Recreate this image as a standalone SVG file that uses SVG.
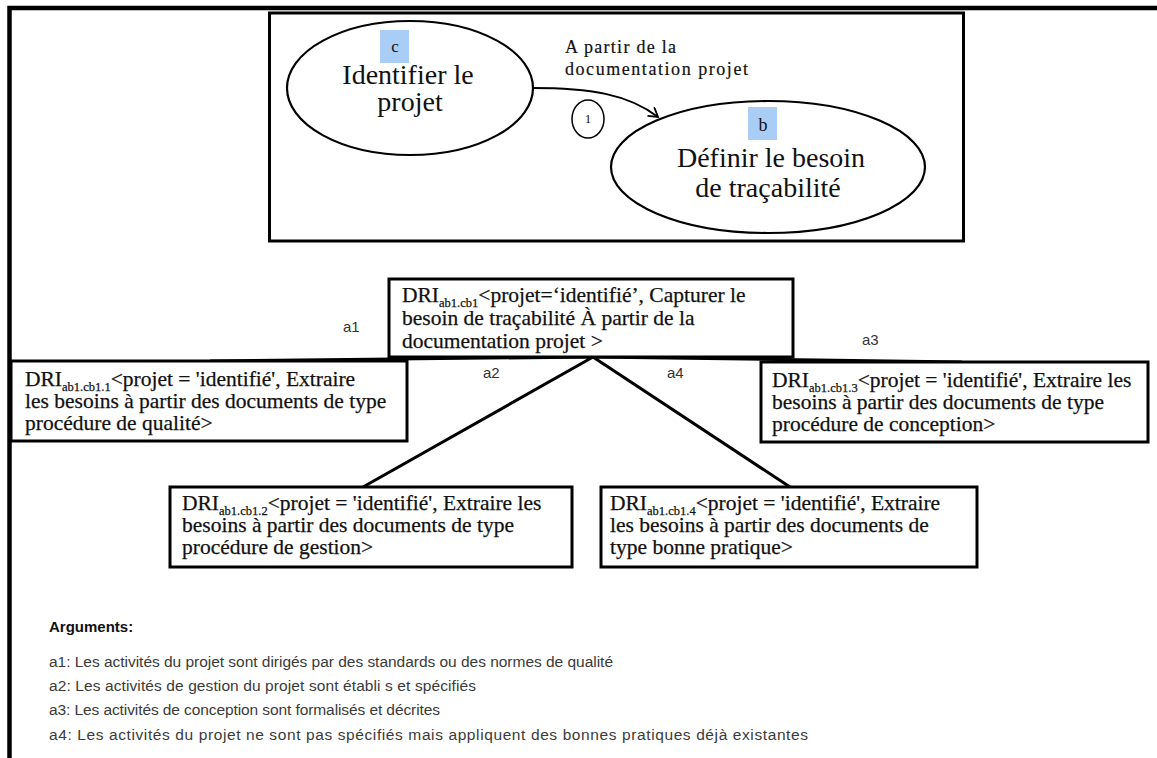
<svg xmlns="http://www.w3.org/2000/svg" width="1157" height="758" viewBox="0 0 1157 758">
  <defs>
    <marker id="open" markerUnits="userSpaceOnUse" markerWidth="14" markerHeight="14" refX="10" refY="6" orient="auto">
      <path d="M1,0.5 L10,6 L1,11.5" fill="none" stroke="#000" stroke-width="1.8"/>
    </marker>
  </defs>
  <style>
    .frame { stroke: #000; stroke-width: 4.5; fill: none; }
    .panel { fill: #fff; stroke: #000; stroke-width: 3; }
    .ell { fill: #fff; stroke: #000; stroke-width: 2.2; }
    .box { fill: #fff; stroke: #000; stroke-width: 3; }
    .hl { fill: #a9cdf5; }
    .big { font-family: "Liberation Serif", "Times New Roman", serif; font-size: 28px; fill: #111; text-anchor: middle; }
    .mid { font-family: "Liberation Serif", "Times New Roman", serif; font-size: 18px; fill: #111; stroke: #111; stroke-width: 0.2; }
    .dri { font-family: "Liberation Serif", "Times New Roman", serif; font-size: 21.5px; fill: #111; stroke: #111; stroke-width: 0.25; }
    .sub { font-size: 12.5px; }
    .lbl { font-family: "Liberation Sans", Arial, sans-serif; font-size: 15px; fill: #333; }
    .arg { font-family: "Liberation Sans", Arial, sans-serif; font-size: 15.5px; fill: #3a3a3a; }
    .argh { font-family: "Liberation Sans", Arial, sans-serif; font-size: 15px; font-weight: bold; fill: #111; }
    .conn { stroke: #000; stroke-width: 3; fill: none; }
  </style>
  <rect width="1157" height="758" fill="#fff"/>
  <g id="outer-frame">
    <path class="frame" d="M9.5,758 L9.5,8 L1157,8"/>
  </g>
  <g id="process-panel">
    <rect class="panel" x="269.5" y="13" width="694" height="228"/>
  </g>
  <g id="flow-connector">
    <path d="M532,88 C590,88 628,94 658,117" fill="none" stroke="#000" stroke-width="2" marker-end="url(#open)"/>
    <text class="mid" x="565" y="53" textLength="111" lengthAdjust="spacing">A partir de la</text>
    <text class="mid" x="565" y="75" textLength="183" lengthAdjust="spacing">documentation projet</text>
    <ellipse cx="588" cy="119" rx="16" ry="19" fill="#fff" stroke="#000" stroke-width="1.5"/>
    <text x="588" y="123" font-family="Liberation Serif, serif" font-size="12" text-anchor="middle" fill="#000">1</text>
  </g>
  <g id="node-c">
    <ellipse class="ell" cx="410" cy="88" rx="123" ry="67"/>
    <rect class="hl" x="380" y="30" width="29" height="33"/>
    <text x="395" y="52" font-family="Liberation Serif, serif" font-size="17" text-anchor="middle" fill="#111">c</text>
    <text class="big" x="408" y="84">Identifier le</text>
    <text class="big" x="410" y="111">projet</text>
  </g>
  <g id="node-b">
    <ellipse class="ell" cx="768" cy="167" rx="157" ry="66"/>
    <rect class="hl" x="748" y="107" width="29" height="33"/>
    <text x="763" y="131" font-family="Liberation Serif, serif" font-size="18" text-anchor="middle" fill="#111">b</text>
    <text class="big" x="771" y="167">Définir le besoin</text>
    <text class="big" x="768" y="197">de traçabilité</text>
  </g>
  <g id="connectors">
    <line class="conn" x1="593" y1="357" x2="210" y2="361"/>
    <line class="conn" x1="593" y1="357" x2="962" y2="362"/>
    <line class="conn" x1="593" y1="357" x2="363" y2="487"/>
    <line class="conn" x1="593" y1="357" x2="790" y2="487"/>
    <text class="lbl" x="343" y="332">a1</text>
    <text class="lbl" x="483" y="378">a2</text>
    <text class="lbl" x="667" y="378">a4</text>
    <text class="lbl" x="862" y="345">a3</text>
  </g>
  <g id="dri-root">
    <rect class="box" x="389" y="279" width="404" height="78"/>
    <text class="dri" x="402" y="302">DRI<tspan class="sub" dy="5">ab1.cb1</tspan><tspan dy="-5">&lt;projet=‘identifié’, Capturer le</tspan></text>
    <text class="dri" x="402" y="325">besoin de traçabilité À partir de la</text>
    <text class="dri" x="402" y="348">documentation projet &gt;</text>
  </g>
  <g id="dri-1">
    <rect class="box" x="11" y="361" width="396" height="80"/>
    <text class="dri" x="25" y="386">DRI<tspan class="sub" dy="5">ab1.cb1.1</tspan><tspan dy="-5">&lt;projet = 'identifié', Extraire</tspan></text>
    <text class="dri" x="25" y="408">les besoins à partir des documents de type</text>
    <text class="dri" x="25" y="430">procédure de qualité&gt;</text>
  </g>
  <g id="dri-3">
    <rect class="box" x="761" y="362" width="387" height="80"/>
    <text class="dri" x="772" y="387">DRI<tspan class="sub" dy="5">ab1.cb1.3</tspan><tspan dy="-5">&lt;projet = 'identifié', Extraire les</tspan></text>
    <text class="dri" x="772" y="409">besoins à partir des documents de type</text>
    <text class="dri" x="772" y="431">procédure de conception&gt;</text>
  </g>
  <g id="dri-2">
    <rect class="box" x="170" y="487" width="402" height="80"/>
    <text class="dri" x="182" y="510">DRI<tspan class="sub" dy="5">ab1.cb1.2</tspan><tspan dy="-5">&lt;projet = 'identifié', Extraire les</tspan></text>
    <text class="dri" x="182" y="532">besoins à partir des documents de type</text>
    <text class="dri" x="182" y="554">procédure de gestion&gt;</text>
  </g>
  <g id="dri-4">
    <rect class="box" x="601" y="487" width="376" height="80"/>
    <text class="dri" x="610" y="510">DRI<tspan class="sub" dy="5">ab1.cb1.4</tspan><tspan dy="-5">&lt;projet = 'identifié', Extraire</tspan></text>
    <text class="dri" x="610" y="532">les besoins à partir des documents de</text>
    <text class="dri" x="610" y="554">type bonne pratique&gt;</text>
  </g>
  <g id="arguments">
    <text class="argh" x="49" y="632">Arguments:</text>
    <text class="arg" x="49" y="667" textLength="564" lengthAdjust="spacing">a1: Les activités du projet sont dirigés par des standards ou des normes de qualité</text>
    <text class="arg" x="49" y="691" textLength="427" lengthAdjust="spacing">a2: Les activités de gestion du projet sont  établi s et spécifiés</text>
    <text class="arg" x="49" y="715" textLength="391" lengthAdjust="spacing">a3: Les activités de conception sont formalisés et décrites</text>
    <text class="arg" x="49" y="740" textLength="759" lengthAdjust="spacing">a4: Les activités du projet ne sont pas spécifiés mais appliquent des bonnes pratiques déjà existantes</text>
  </g>
</svg>
